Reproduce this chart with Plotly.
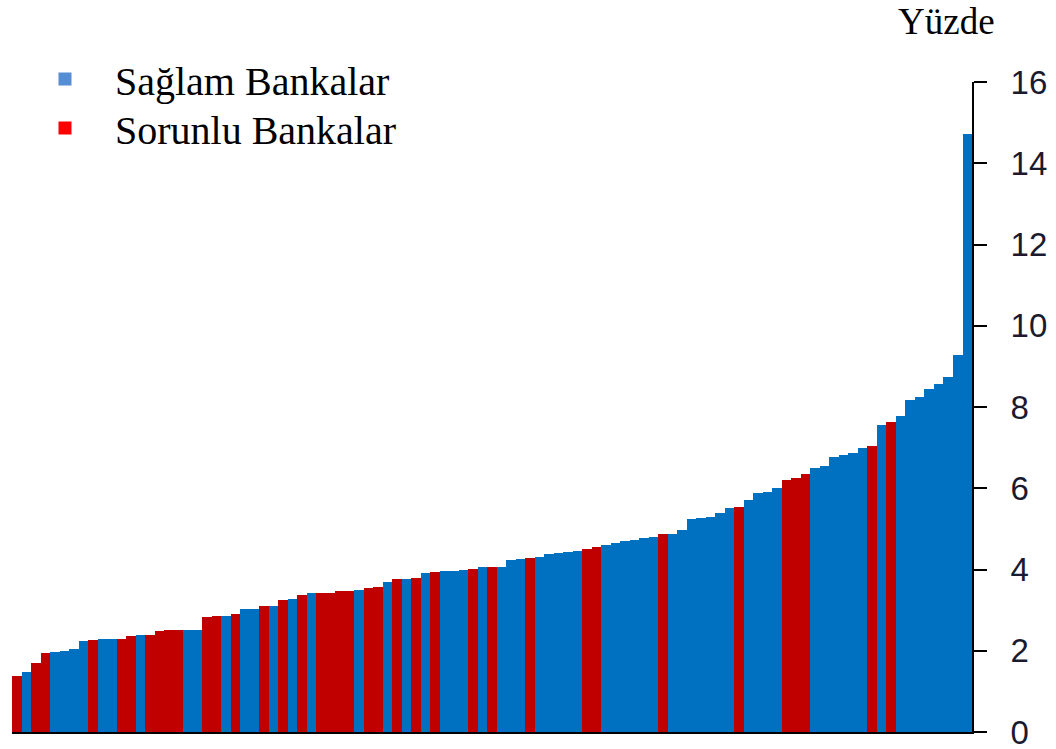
import plotly.graph_objects as go

# Bank values (percent), sorted ascending, with group label
values = [1.38, 1.47, 1.69, 1.95, 1.96, 2.00, 2.05, 2.23, 2.26, 2.28,
          2.29, 2.30, 2.36, 2.38, 2.38, 2.49, 2.50, 2.50, 2.50, 2.52,
          2.84, 2.85, 2.86, 2.91, 3.02, 3.03, 3.09, 3.11, 3.25, 3.28,
          3.37, 3.41, 3.42, 3.43, 3.46, 3.48, 3.50, 3.55, 3.56, 3.70,
          3.76, 3.77, 3.79, 3.91, 3.93, 3.96, 3.97, 3.99, 4.01, 4.05,
          4.07, 4.07, 4.24, 4.25, 4.29, 4.32, 4.37, 4.41, 4.43, 4.46,
          4.51, 4.55, 4.61, 4.66, 4.69, 4.72, 4.77, 4.80, 4.87, 4.88,
          4.98, 5.25, 5.28, 5.30, 5.40, 5.52, 5.55, 5.70, 5.88, 5.90,
          6.00, 6.20, 6.26, 6.36, 6.49, 6.55, 6.76, 6.82, 6.88, 6.98,
          7.03, 7.56, 7.63, 7.77, 8.18, 8.24, 8.45, 8.57, 8.75, 9.27,
          14.73]
# B = Sağlam (sound), R = Sorunlu (problem) — one per bar, in rows of ten
groups = list(
    "RBRRBBBBRB"
    "BRRBRRRRBB"
    "RRBRBBRBRB"
    "RBRRRRBRRB"
    "RBRBRBBBRB"
    "RBBBRBBBBB"
    "RRBBBBBBRB"
    "BBBBBBRBBB"
    "BRRRBBBBBB"
    "RBRBBBBBBB"
    "B"
)

yticks = [0, 2, 4, 6, 8, 10, 12, 14, 16]
legend_names = ["Sağlam Bankalar", "Sorunlu Bankalar"]
unit_label = "Yüzde"

BAR_BLUE = "#0070C0"
BAR_RED = "#C00000"
LEG_BLUE = "#558ED5"
LEG_RED = "#FF0000"

colors = [BAR_BLUE if g == "B" else BAR_RED for g in groups]
xs = list(range(len(values)))

fig = go.Figure()
fig.add_trace(go.Bar(x=xs, y=values, marker=dict(color=colors, line=dict(width=0)),
                     showlegend=False, hoverinfo="y"))

for name, col, lg in zip(legend_names, [LEG_BLUE, LEG_RED], ["legend", "legend2"]):
    fig.add_trace(go.Scatter(x=[None], y=[None], mode="markers", name=name,
                             legend=lg,
                             marker=dict(symbol="square", size=13, color=col)))

leg_common = dict(xref="container", yref="container", x=0.0142,
                  xanchor="left", yanchor="middle",
                  font=dict(family="Liberation Serif", size=40, color="black"),
                  itemwidth=90, bgcolor="rgba(0,0,0,0)")

fig.update_layout(
    width=1056, height=749,
    margin=dict(l=12, r=84, t=82, b=17, autoexpand=False),
    paper_bgcolor="white", plot_bgcolor="white",
    bargap=0,
    showlegend=True,
    legend=dict(y=1 - 79 / 749, **leg_common),
    legend2=dict(y=1 - 128 / 749, **leg_common),
    xaxis=dict(range=[-0.5, len(values) - 0.5], showgrid=False, zeroline=False,
               showticklabels=False, ticks="", showline=True, linecolor="black",
               linewidth=2, automargin=False),
    yaxis=dict(range=[0, 16], side="right", tickvals=yticks,
               ticktext=[str(v) for v in yticks], showgrid=False, zeroline=False,
               showline=True, linecolor="black", linewidth=2,
               ticks="outside", ticklen=13, tickwidth=2, tickcolor="black",
               ticklabelstandoff=17, ticklabeloverflow="allow", automargin=False,
               tickfont=dict(family="Liberation Sans", size=33, color="#1a1a2e")),
    annotations=[dict(text=unit_label, xref="paper", yref="paper", x=1.0, y=1.0,
                      xanchor="left", yanchor="bottom", xshift=-76, yshift=38,
                      showarrow=False,
                      font=dict(family="Liberation Serif", size=37, color="black"))],
)

fig.write_html("out.html", config={"displayModeBar": False},
               post_script="document.body.style.margin='0';document.body.style.overflow='hidden';")
